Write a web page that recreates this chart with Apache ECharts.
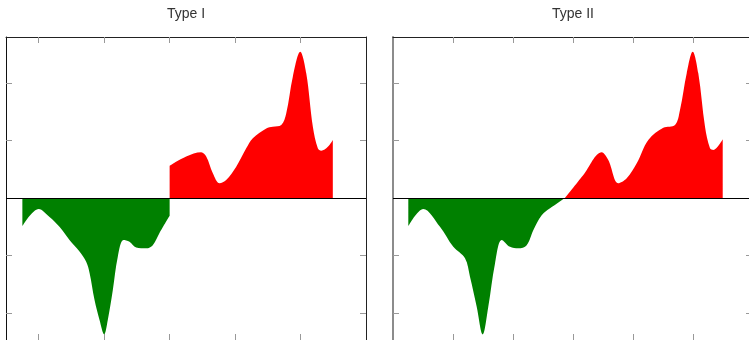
<!DOCTYPE html>
<html>
<head>
<meta charset="utf-8">
<script src="https://cdn.jsdelivr.net/npm/echarts@6/dist/echarts.min.js"></script>
<style>
  html, body { margin: 0; padding: 0; background: #fff; }
  #chart { width: 749px; height: 340px; }
</style>
</head>
<body>
<div id="chart"></div>
<script>
// Type I: negative part and positive part meet with a jump at x = 3
const t1NegX = [0.75, 1.0, 1.165, 1.317, 1.47, 1.623, 1.725, 1.776, 1.852, 1.929, 2.0, 2.055, 2.132, 2.208, 2.295, 2.387, 2.489, 2.642, 2.743, 2.845, 3.0];
const t1NegY = [-0.49, -0.19, -0.33, -0.5, -0.73, -0.93, -1.11, -1.3, -1.77, -2.12, -2.37, -2.12, -1.6, -1.02, -0.73, -0.76, -0.86, -0.875, -0.82, -0.61, -0.31];
const t1PosX = [3.0, 3.253, 3.482, 3.559, 3.66, 3.762, 3.864, 4.017, 4.17, 4.271, 4.476, 4.576, 4.705, 4.781, 4.882, 4.995, 5.087, 5.188, 5.264, 5.316, 5.417, 5.493];
const t1PosY = [0.56, 0.72, 0.795, 0.72, 0.43, 0.256, 0.313, 0.544, 0.864, 1.04, 1.21, 1.24, 1.27, 1.47, 2.11, 2.544, 2.17, 1.24, 0.864, 0.823, 0.892, 1.01];

// Type II: the curve crosses zero continuously
const t2NegX = [0.255, 0.505, 0.783, 1.005, 1.2, 1.283, 1.395, 1.495, 1.588, 1.7, 1.812, 1.95, 2.088, 2.228, 2.338, 2.478, 2.617, 2.867];
const t2NegY = [-0.49, -0.19, -0.5, -0.85, -1.05, -1.37, -1.89, -2.37, -1.89, -1.14, -0.73, -0.85, -0.875, -0.82, -0.56, -0.3, -0.18, 0];
const t2PosX = [2.867, 3.172, 3.478, 3.588, 3.755, 3.895, 4.062, 4.255, 4.505, 4.7, 4.783, 4.895, 4.995, 5.088, 5.2, 5.283, 5.338, 5.495];
const t2PosY = [0, 0.4, 0.795, 0.66, 0.256, 0.343, 0.603, 1.01, 1.22, 1.27, 1.53, 2.17, 2.544, 2.17, 1.24, 0.864, 0.835, 1.02];

const titles = ['Type I', 'Type II'];
const xTicks = [1, 2, 3, 4, 5];
const yTicks = [-2, -1, 0, 1, 2];

// visible window of each panel (the figure is cut at the canvas edge)
const yMin = -2.47, yMax = 2.8;
const x1Min = 0.5, x1Max = 6;
const x2Min = 0, x2Max = 5.933;

const zip = (xs, ys) => xs.map((x, i) => [x, ys[i]]);

const makeAxis = (gridIndex, position, min, max, ticks, line, tickLen) => ({
  type: 'value',
  gridIndex,
  position,
  min,
  max,
  axisLine: { show: !!line, onZero: false, lineStyle: line || {} },
  axisTick: {
    show: true,
    inside: true,
    length: tickLen || 6,
    customValues: ticks,
    lineStyle: { color: '#999', width: 1 }
  },
  axisLabel: { show: false, customValues: ticks },
  splitLine: { show: false }
});

const areaSeries = (name, data, color, xi, yi, zeroLine) => ({
  name,
  type: 'line',
  xAxisIndex: xi,
  yAxisIndex: yi,
  data,
  smooth: 0.35,
  showSymbol: false,
  symbol: 'none',
  lineStyle: { width: 0, opacity: 0 },
  areaStyle: { color, opacity: 1 },
  silent: true,
  markLine: zeroLine ? {
    silent: true,
    symbol: 'none',
    label: { show: false },
    lineStyle: { color: '#000', width: 1, type: 'solid' },
    data: [{ yAxis: 0 }]
  } : undefined
});

const dark = { color: '#222', width: 1 };
const titleFont = { fontSize: 14, fontWeight: 'normal', color: '#333', fontFamily: 'Liberation Sans' };

const chart = echarts.init(document.getElementById('chart'));

chart.setOption({
  animation: false,
  title: [
    { text: titles[0], left: 186, top: 7, padding: 0, textAlign: 'center', textStyle: titleFont },
    { text: titles[1], left: 573, top: 7, padding: 0, textAlign: 'center', textStyle: titleFont }
  ],
  grid: [
    { left: 6, top: 37, width: 360, height: 303 },
    { left: 393, top: 37, width: 356, height: 303 }
  ],
  xAxis: [
    makeAxis(0, 'bottom', x1Min, x1Max, xTicks, null),
    makeAxis(0, 'top', x1Min, x1Max, xTicks, dark),
    makeAxis(1, 'bottom', x2Min, x2Max, xTicks, null),
    makeAxis(1, 'top', x2Min, x2Max, xTicks, dark)
  ],
  yAxis: [
    makeAxis(0, 'left', yMin, yMax, yTicks, { color: '#111', width: 1 }),
    makeAxis(0, 'right', yMin, yMax, yTicks, dark),
    makeAxis(1, 'left', yMin, yMax, yTicks, { color: '#8c8c8c', width: 2 }),
    makeAxis(1, 'right', yMin, yMax, yTicks, null, 3)
  ],
  series: [
    areaSeries('t1neg', zip(t1NegX, t1NegY), '#008000', 0, 0, true),
    areaSeries('t1pos', zip(t1PosX, t1PosY), '#ff0000', 0, 0, false),
    areaSeries('t2neg', zip(t2NegX, t2NegY), '#008000', 2, 2, true),
    areaSeries('t2pos', zip(t2PosX, t2PosY), '#ff0000', 2, 2, false)
  ]
});
</script>
</body>
</html>
